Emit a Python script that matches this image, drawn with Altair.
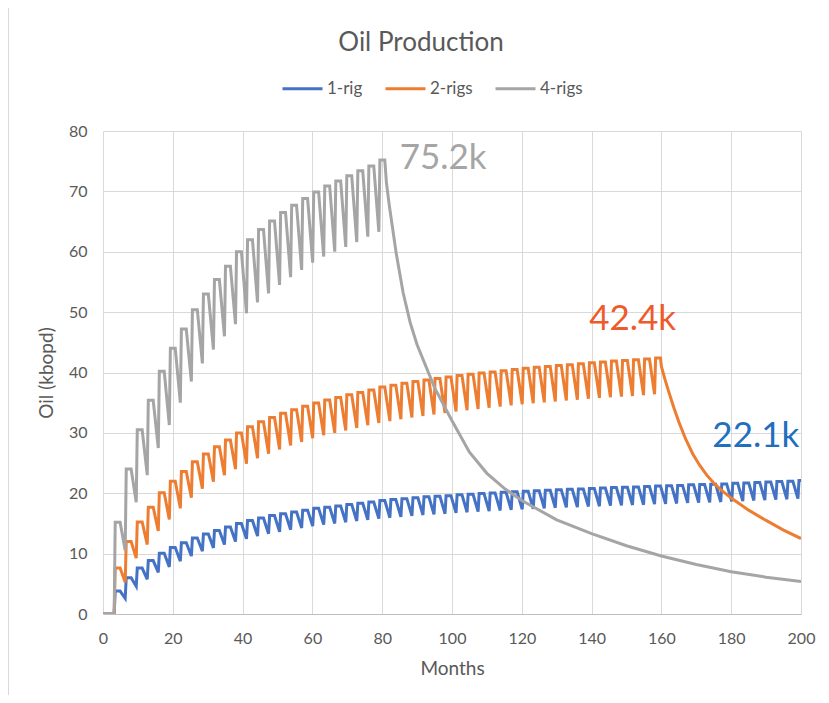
import altair as alt
import pandas as pd

SERIES = ["1-rig", "2-rigs", "4-rigs"]
COLORS = ["#4472C4", "#ED7D31", "#A5A5A5"]

# months at which each new batch of wells comes online (first batch, spacing)
TOOTH_START = 3.2
TOOTH_PERIOD = 3.16

# ---- 4-rigs: peak of each tooth and the low just before it ----
gray_peaks = [15.2, 24.0, 30.5, 35.4, 40.2, 44.0, 47.2, 50.4, 53.0, 55.4,
              57.6, 60.0, 62.0, 63.7, 65.1, 66.5, 67.7, 68.8, 69.9, 70.9,
              71.7, 72.6, 73.4, 74.2, 75.2]
gray_troughs = [0.0, 10.5, 18.5, 23.0, 27.5, 31.3, 35.0, 38.5, 41.5, 43.8,
                46.0, 48.0, 49.8, 51.6, 53.1, 54.5, 55.8, 57.0, 58.2, 59.2,
                60.0, 60.8, 61.6, 62.5, 63.3]
gray_tail_months = [81.2, 82, 84, 86, 88, 90, 95, 100, 105, 110, 115, 120,
                    130, 140, 150, 160, 170, 180, 190, 200]
gray_tail_values = [71.5, 67.8, 59.8, 53.2, 48.3, 44.6, 37.5, 32.0, 26.8, 23.3,
                    20.8, 18.8, 15.6, 13.3, 11.3, 9.6, 8.2, 7.0, 6.1, 5.4]

# ---- 2-rigs ----
orange_peaks = [7.6, 12.0, 15.25, 17.7, 20.1, 22.0, 23.6, 25.2, 26.5, 27.7,
                28.8, 30.0, 31.0, 31.85, 32.55, 33.25, 33.85, 34.4, 34.95, 35.45,
                35.85, 36.3, 36.7, 37.1, 37.6, 37.9, 38.2, 38.5, 38.75, 39.0,
                39.25, 39.5, 39.7, 39.9, 40.1, 40.3, 40.5, 40.7, 40.85, 41.0,
                41.15, 41.3, 41.45, 41.6, 41.75, 41.9, 42.0, 42.1, 42.25, 42.4]
orange_troughs = [0.0, 5.25, 9.25, 11.5, 13.75, 15.65, 17.5, 19.25, 20.75, 21.9,
                  23.0, 24.0, 24.9, 25.8, 26.55, 27.25, 27.9, 28.5, 29.1, 29.6,
                  30.0, 30.4, 30.8, 31.25, 31.65, 31.95, 32.25, 32.55, 32.8, 33.05,
                  33.3, 33.55, 33.75, 33.95, 34.15, 34.35, 34.55, 34.75, 34.9, 35.05,
                  35.2, 35.35, 35.5, 35.65, 35.8, 35.9, 36.0, 36.1, 36.25, 36.4]
orange_tail_months = [160, 161, 162, 163.5, 165, 167, 169, 171, 173, 175, 177,
                      180, 185, 190, 195, 200]
orange_tail_values = [41.0, 38.9, 37.0, 34.3, 31.8, 28.9, 26.5, 24.6, 23.0, 21.7,
                      20.6, 19.2, 17.2, 15.5, 13.9, 12.5]

# ---- 1-rig ----
blue_peaks = [3.8, 6.0, 7.6, 8.85, 10.05, 11.0, 11.8, 12.6, 13.25, 13.85,
              14.4, 15.0, 15.5, 15.9, 16.3, 16.6, 16.9, 17.2, 17.5, 17.7,
              17.9, 18.15, 18.35, 18.55, 18.8, 18.95, 19.1, 19.25, 19.4, 19.5,
              19.6, 19.75, 19.85, 19.95, 20.05, 20.15, 20.25, 20.35, 20.4, 20.5,
              20.6, 20.65, 20.7, 20.8, 20.85, 20.95, 21.0, 21.05, 21.1, 21.2,
              21.25, 21.3, 21.4, 21.45, 21.5, 21.55, 21.65, 21.7, 21.8, 21.85,
              21.95, 22.0, 22.1]
blue_troughs = [0.0, 2.6, 4.6, 5.75, 6.9, 7.8, 8.75, 9.6, 10.4, 10.95,
                11.5, 12.0, 12.45, 12.9, 13.3, 13.6, 13.95, 14.25, 14.55, 14.8,
                15.0, 15.2, 15.4, 15.6, 15.8, 15.95, 16.1, 16.25, 16.4, 16.5,
                16.6, 16.75, 16.85, 16.95, 17.05, 17.15, 17.25, 17.35, 17.4, 17.5,
                17.6, 17.65, 17.7, 17.8, 17.85, 17.95, 18.0, 18.05, 18.1, 18.2,
                18.25, 18.3, 18.4, 18.45, 18.5, 18.55, 18.65, 18.7, 18.8, 18.85,
                18.95, 19.0, 19.1]
blue_tail_months = []
blue_tail_values = []

# ---- end-of-drilling annotations ----
label_texts = ["75.2k", "42.4k", "22.1k"]
label_months = [85.0, 139.3, 174.6]
label_values = [75.6, 48.9, 29.4]
label_colors = ["#A5A5A5", "#EF5A2A", "#1F6FC0"]

X_MAX = 200.0
RISE = 0.3      # months for a new batch to ramp up (near-vertical step)
PLATEAU = 1.7   # months spent near the peak before the drop


def build(name, peaks, troughs, tail_m, tail_v):
    rows = [{"series": name, "month": 0.0, "oil": 0.0}]
    for k, (p, tr) in enumerate(zip(peaks, troughs)):
        t = TOOTH_START + k * TOOTH_PERIOD
        rows.append({"series": name, "month": t, "oil": tr})
        rows.append({"series": name, "month": min(t + RISE, X_MAX), "oil": p})
        if t + RISE < X_MAX:
            rows.append({"series": name, "month": min(t + PLATEAU, X_MAX), "oil": p})
    for m, v in zip(tail_m, tail_v):
        rows.append({"series": name, "month": float(m), "oil": v})
    return rows


rows = []
rows += build("1-rig", blue_peaks, blue_troughs, blue_tail_months, blue_tail_values)
rows += build("2-rigs", orange_peaks, orange_troughs, orange_tail_months, orange_tail_values)
rows += build("4-rigs", gray_peaks, gray_troughs, gray_tail_months, gray_tail_values)
df = pd.DataFrame(rows)

df_labels = pd.DataFrame({
    "month": label_months,
    "oil": label_values,
    "text": label_texts,
    "color": label_colors,
})

FONT = "Lato"
TXT = "#595959"

x_enc = alt.X(
    "month:Q",
    scale=alt.Scale(domain=[0, 200], nice=False),
    axis=alt.Axis(
        title="Months",
        values=list(range(0, 201, 20)),
        labelPadding=16,
        titlePadding=13,
        labelFlush=False,
    ),
)
y_enc = alt.Y(
    "oil:Q",
    scale=alt.Scale(domain=[0, 80], nice=False),
    axis=alt.Axis(
        title="Oil (kbopd)",
        values=list(range(0, 81, 10)),
        labelPadding=16,
        titlePadding=12,
        domain=False,
        labelFlush=False,
    ),
)

lines = alt.Chart(df).mark_line(strokeWidth=3, clip=True).encode(
    x=x_enc,
    y=y_enc,
    color=alt.Color(
        "series:N",
        scale=alt.Scale(domain=SERIES, range=COLORS),
        legend=alt.Legend(
            title=None,
            orient="none",
            direction="horizontal",
            legendX=178,
            legendY=-64,
            symbolType="stroke",
            symbolSize=1600,
            symbolStrokeWidth=3,
            labelFont=FONT,
            labelFontSize=17,
            labelColor=TXT,
            labelOffset=3,
            columnPadding=16,
        ),
    ),
)

labels = alt.Chart(df_labels).mark_text(
    align="left", baseline="middle", font=FONT, fontSize=35
).encode(
    x=alt.X("month:Q"),
    y=alt.Y("oil:Q"),
    text="text:N",
    color=alt.Color("color:N", scale=None),
)

# faint chart-area border on the left edge, as in the reference
border = alt.Chart(df_labels.head(1)).mark_rule(
    color="#D9D9D9", strokeWidth=1, clip=False
).encode(
    x=alt.value(-94.5),
    y=alt.value(-123),
    y2=alt.value(564),
)

chart = alt.layer(border, lines, labels).properties(
    width=698,
    height=483,
    autosize=alt.AutoSizeParams(type="none"),
    padding={"left": 95, "top": 123, "right": 20, "bottom": 81},
    title=alt.Title(
        "Oil Production",
        font=FONT,
        fontSize=26,
        fontWeight="normal",
        color=TXT,
        anchor="middle",
        dx=-31,
        offset=-48,
    ),
).configure_axis(
    gridColor="#D9D9D9",
    gridWidth=1,
    ticks=False,
    domainColor="#BFBFBF",
    labelFont=FONT,
    labelFontSize=16,
    labelColor=TXT,
    titleFont=FONT,
    titleFontSize=19,
    titleFontWeight="normal",
    titleColor=TXT,
).configure_view(
    stroke="transparent"
)

chart.save("out.html", embed_options={"renderer": "svg", "actions": False})
